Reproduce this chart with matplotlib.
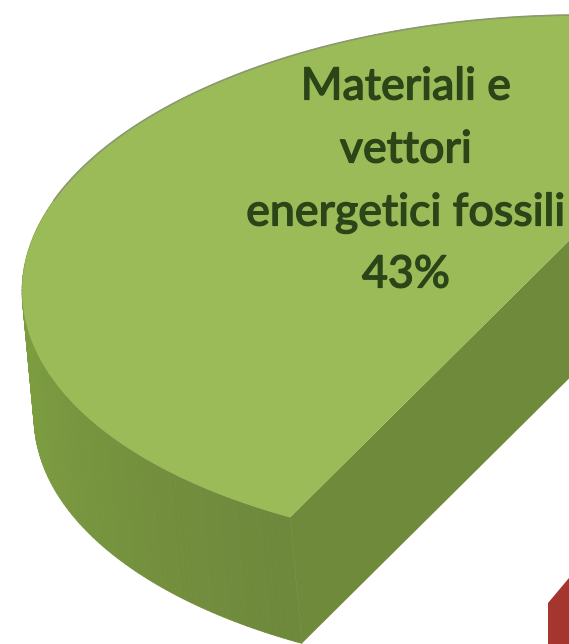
import numpy as np
import matplotlib
matplotlib.use("Agg")
import matplotlib.pyplot as plt
import matplotlib.patheffects as pe
from matplotlib.patches import Polygon, Wedge

# data
label_lines = ["Materiali e", "vettori", "energetici fossili", "43%"]
share_green = 43

# layout in image pixels (the pie is cropped by the picture)
cx, cy = 564.6, 282.5
a, b = 542.6, 267.3
tilt = np.radians(-1.19)
start = 121
apex = np.array([610, 200])
depth = np.array([12, 126])
label_y = [87, 150, 213, 275]

TOP = "#9bbb59"
WALL_LEFT = np.array([124, 156, 64]) / 255
WALL_RIGHT = np.array([110, 136, 60]) / 255
FACE = "#708a3c"
RED = "#a5352f"


def rim(t):
    u, v = a * np.cos(t), b * np.sin(t)
    return np.c_[cx + u * np.cos(tilt) - v * np.sin(tilt),
                 cy + u * np.sin(tilt) + v * np.cos(tilt)]


fig = plt.figure(figsize=(5.69, 6.44), dpi=100)
ax = fig.add_axes([0, 0, 1, 1])
ax.set_xlim(0, 569)
ax.set_ylim(644, 0)
ax.axis("off")

sweep = share_green / 100 * 360
t = np.radians(np.linspace(start, start + sweep, 200))
arc = rim(t)

# red neighbour slice, only its corner is in the crop
ax.add_patch(Wedge((548, 603), 120, -50, 90, fc=RED, ec="none", zorder=1))

# outer wall, shaded from right to left
for i in range(len(t) - 1):
    f = min(1, max(0, (np.degrees(t[i]) - start) / 50))
    col = WALL_RIGHT * (1 - f) + WALL_LEFT * f
    quad = [arc[i], arc[i + 1], arc[i + 1] + depth, arc[i] + depth]
    ax.add_patch(Polygon(quad, fc=col, ec=col, lw=0.6, zorder=2))

# cut face
ax.add_patch(Polygon([arc[0], apex, apex + depth, arc[0] + depth], fc=FACE, ec="none", zorder=3))

# top
ax.add_patch(Polygon(np.vstack([arc, apex]), fc=TOP, ec="none", zorder=4))
back = np.degrees(t) > 200
ax.plot(arc[back, 0], arc[back, 1], color="#8a9a6c", lw=1.2, zorder=5)

for line, y in zip(label_lines, label_y):
    ax.text(406, y, line, ha="center", va="center", fontsize=32.2,
            family="Lato", weight="medium", color="#2b4518", zorder=6,
            path_effects=[pe.withStroke(linewidth=0.9, foreground="#2b4518")])

fig.savefig("out.png", dpi=100)
